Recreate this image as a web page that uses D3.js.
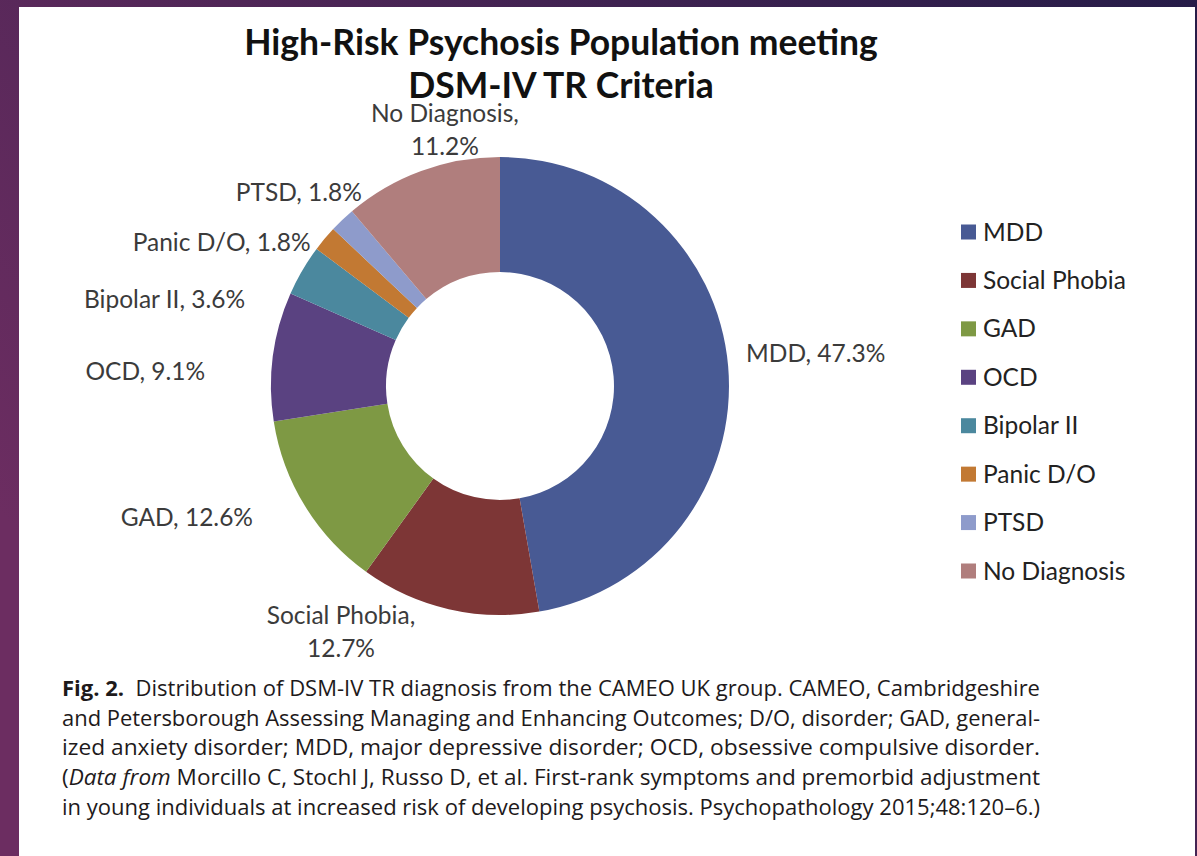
<!DOCTYPE html>
<html>
<head>
<meta charset="utf-8">
<script src="https://cdn.jsdelivr.net/npm/d3@7"></script>
<style>
  body { margin: 0; }
  svg { display: block; }
</style>
</head>
<body>
<svg id="chart"></svg>
<script>
// data
const categories = ["MDD", "Social Phobia", "GAD", "OCD", "Bipolar II", "Panic D/O", "PTSD", "No Diagnosis"]
const percents = [47.3, 12.7, 12.6, 9.1, 3.6, 1.8, 1.8, 11.2]
const colours = ["#485a94", "#7d3636", "#7e9944", "#5a4281", "#4b889e", "#c27933", "#8e9bcb", "#b07e7d"]
const titleLines = ["High-Risk Psychosis Population meeting", "DSM-IV TR Criteria"]

const width = 1197
const height = 856
const svg = d3.select('#chart')
    .attr("width", width)
    .attr("height", height)

// purple backdrop + white page
const defs = svg.append("defs")
const grad = defs.append("linearGradient")
    .attr("id", "bg")
    .attr("x1", "0").attr("y1", "0.6")
    .attr("x2", "1").attr("y2", "0")
grad.append("stop").attr("offset", "0").attr("stop-color", "#6c2d61")
grad.append("stop").attr("offset", "1").attr("stop-color", "#261c48")
svg.append("rect").attr("width", width).attr("height", height).attr("fill", "url(#bg)")
svg.append("rect")
    .attr("x", 19).attr("y", 7)
    .attr("width", 1176).attr("height", height - 7)
    .attr("fill", "#ffffff")

// title
svg.selectAll(".title")
    .data(titleLines)
    .enter().append("text")
        .attr("class", "title")
        .attr("x", 561)
        .attr("y", (d, i) => 55 + i * 43)
        .attr("text-anchor", "middle")
        .attr("font-family", "Lato, sans-serif")
        .attr("font-weight", "bold")
        .attr("font-size", 35.5)
        .attr("fill", "#111")
        .text(d => d)

// donut
const data = categories.map((c, i) => ({ name: c, value: percents[i], colour: colours[i] }))
const cx = 500, cy = 386
const outerR = 229, innerR = 114

const pie = d3.pie()
    .sort(null)
    .value(d => d.value)
const arc = d3.arc()
    .innerRadius(innerR)
    .outerRadius(outerR)
const labelArc = d3.arc()
    .innerRadius(250)
    .outerRadius(250)

const g = svg.append("g").attr("transform", `translate(${cx},${cy})`)
const arcs = pie(data)

g.selectAll("path")
    .data(arcs)
    .enter().append("path")
        .attr("d", arc)
        .attr("fill", d => d.data.colour)

// label nudges relative to the outer label arc (excel moved them around)
const labelLayout = {
    "MDD":          { anchor: "start",  dx: -3,   dy: -2,  lines: 1 },
    "Social Phobia":{ anchor: "middle", dx: -103, dy: -6,  lines: 2 },
    "GAD":          { anchor: "end",    dx: -34,  dy: 9,   lines: 1 },
    "OCD":          { anchor: "end",    dx: -47,  dy: 26,  lines: 1 },
    "Bipolar II":   { anchor: "end",    dx: -39,  dy: 48,  lines: 1 },
    "Panic D/O":    { anchor: "end",    dx: 2,    dy: 26,  lines: 1 },
    "PTSD":         { anchor: "end",    dx: 34,   dy: -4,  lines: 1 },
    "No Diagnosis": { anchor: "middle", dx: 31,   dy: -29, lines: 2 }
}

const labels = g.selectAll(".label")
    .data(arcs)
    .enter().append("text")
        .attr("class", "label")
        .attr("font-family", "Lato, sans-serif")
        .attr("font-size", 24.5)
        .attr("fill", "#3b3b3b")
        .attr("text-anchor", d => labelLayout[d.data.name].anchor)
        .attr("transform", d => {
            const c = labelArc.centroid(d)
            const l = labelLayout[d.data.name]
            return `translate(${c[0] + l.dx},${c[1] + l.dy})`
        })

labels.each(function (d) {
    const l = labelLayout[d.data.name]
    const sel = d3.select(this)
    const pct = d.data.value.toFixed(1) + "%"
    if (l.lines === 2) {
        sel.append("tspan").attr("x", 0).attr("y", 0).text(d.data.name + ",")
        sel.append("tspan").attr("x", 0).attr("y", 33).text(pct)
    } else {
        sel.append("tspan").attr("x", 0).attr("y", 0).text(d.data.name + ", " + pct)
    }
})

// legend
const legendY = d3.scalePoint()
    .domain(categories)
    .range([232, 571])

const legend = svg.selectAll(".legend")
    .data(data)
    .enter().append("g")
        .attr("class", "legend")
        .attr("transform", d => `translate(961,${legendY(d.name)})`)
legend.append("rect")
    .attr("x", 0).attr("y", -7.5)
    .attr("width", 15).attr("height", 15)
    .attr("fill", d => d.colour)
legend.append("text")
    .attr("x", 22)
    .attr("dy", "0.35em")
    .attr("font-family", "Lato, sans-serif")
    .attr("font-size", 24.5)
    .attr("fill", "#222")
    .text(d => d.name)

// caption, justified between 62 and 1040
const caption = [
    [["Fig. 2.", "bold"], ["  Distribution of DSM-IV TR diagnosis from the CAMEO UK group. CAMEO, Cambridgeshire", ""]],
    [["and Petersborough Assessing Managing and Enhancing Outcomes; D/O, disorder; GAD, general-", ""]],
    [["ized anxiety disorder; MDD, major depressive disorder; OCD, obsessive compulsive disorder.", ""]],
    [["(", ""], ["Data from", "italic"], [" Morcillo C, Stochl J, Russo D, et al. First-rank symptoms and premorbid adjustment", ""]],
    [["in young individuals at increased risk of developing psychosis. Psychopathology 2015;48:120\u20136.)", ""]]
]

const capText = svg.selectAll(".caption")
    .data(caption)
    .enter().append("text")
        .attr("class", "caption")
        .attr("x", 62)
        .attr("y", (d, i) => 696 + i * 29.7)
        .attr("textLength", 978)
        .attr("lengthAdjust", "spacingAndGlyphs")
        .attr("font-family", "'Open Sans', sans-serif")
        .attr("font-size", 21.5)
        .attr("fill", "#1e1a1b")
        .attr("xml:space", "preserve")
        .style("white-space", "pre")

capText.selectAll("tspan")
    .data(d => d)
    .enter().append("tspan")
        .attr("font-weight", d => d[1] === "bold" ? "bold" : null)
        .attr("font-style", d => d[1] === "italic" ? "italic" : null)
        .text(d => d[0])
</script>
</body>
</html>
